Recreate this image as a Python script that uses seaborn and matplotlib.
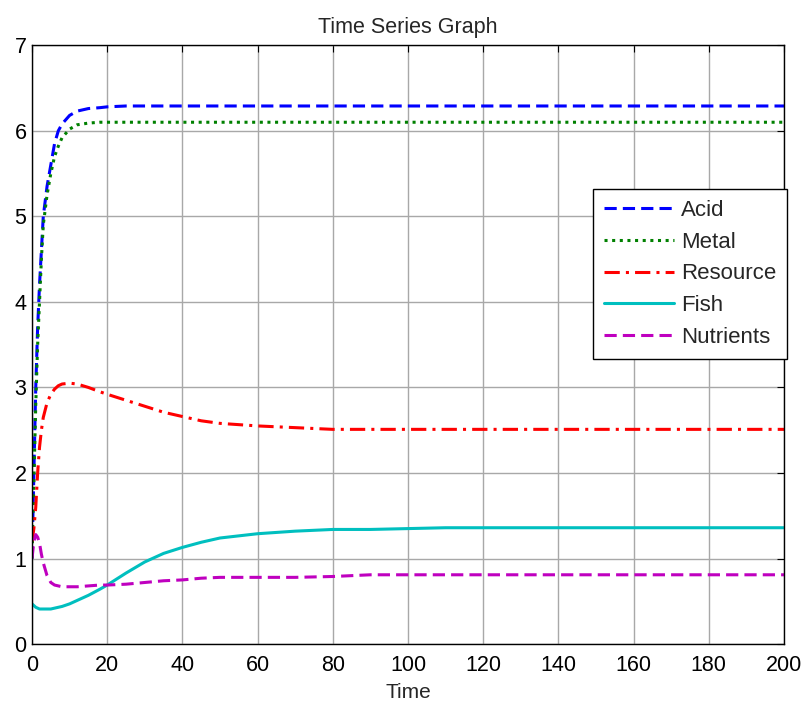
import matplotlib
matplotlib.use('Agg')
import matplotlib.pyplot as plt
import seaborn as sns
import pandas as pd

# --- data ---
time = [0, 0.5, 1, 1.5, 2, 2.5, 3, 4, 5, 6, 7, 8, 10, 12, 15, 18, 20, 25, 30,
        35, 40, 45, 50, 60, 70, 80, 90, 100, 110, 120, 140, 160, 180, 200]

acid = [1.0, 2.0, 3.0, 3.7, 4.2, 4.6, 5.0, 5.35, 5.6, 5.85, 6.0, 6.08, 6.18, 6.23,
        6.26, 6.27, 6.28, 6.29, 6.29, 6.29, 6.29, 6.29, 6.29, 6.29, 6.29, 6.29,
        6.29, 6.29, 6.29, 6.29, 6.29, 6.29, 6.29, 6.29]
metal = [1.0, 1.9, 2.8, 3.5, 4.0, 4.5, 4.9, 5.25, 5.5, 5.7, 5.82, 5.92, 6.02, 6.07,
         6.09, 6.1, 6.1, 6.1, 6.1, 6.1, 6.1, 6.1, 6.1, 6.1, 6.1, 6.1, 6.1, 6.1,
         6.1, 6.1, 6.1, 6.1, 6.1, 6.1]
resource = [1.2, 1.35, 1.6, 2.0, 2.3, 2.5, 2.65, 2.82, 2.92, 2.98, 3.02, 3.04, 3.05,
            3.04, 3.0, 2.95, 2.92, 2.85, 2.78, 2.71, 2.66, 2.61, 2.58, 2.55, 2.53,
            2.51, 2.51, 2.51, 2.51, 2.51, 2.51, 2.51, 2.51, 2.51]
fish = [0.47, 0.45, 0.43, 0.42, 0.41, 0.41, 0.41, 0.41, 0.41, 0.42, 0.43, 0.44, 0.47,
        0.51, 0.57, 0.64, 0.69, 0.83, 0.96, 1.06, 1.13, 1.19, 1.24, 1.29, 1.32,
        1.34, 1.34, 1.35, 1.36, 1.36, 1.36, 1.36, 1.36, 1.36]
nutrients = [1.0, 1.2, 1.28, 1.25, 1.18, 1.05, 0.95, 0.8, 0.72, 0.69, 0.68, 0.67,
             0.67, 0.67, 0.68, 0.69, 0.69, 0.7, 0.72, 0.74, 0.75, 0.77, 0.78, 0.78,
             0.78, 0.79, 0.81, 0.81, 0.81, 0.81, 0.81, 0.81, 0.81, 0.81]

series = ["Acid", "Metal", "Resource", "Fish", "Nutrients"]
values = [acid, metal, resource, fish, nutrients]
colors = ["#0000ff", "#008000", "#ff0000", "#00bfbf", "#bf00bf"]
styles = [(0, (4, 2)), (0, (1, 1.5)), (0, (5, 2, 1, 2)), "-", (0, (4, 2))]

rows = []
for name, vals in zip(series, values):
    for t, v in zip(time, vals):
        rows.append({"Time": t, "value": v, "series": name})
df = pd.DataFrame(rows)

sns.set_style("white")
plt.rcParams['font.family'] = ['Liberation Sans', 'DejaVu Sans']

fig = plt.figure(figsize=(8.08, 7.07), dpi=100)
ax = fig.add_axes([0.0396, 0.089, 0.9307, 0.847])

for name, c, ls in zip(series, colors, styles):
    sub = df[df["series"] == name]
    sns.lineplot(data=sub, x="Time", y="value", ax=ax, color=c, linestyle=ls,
                 linewidth=2.2, label=name)

ax.set_xlim(0, 200)
ax.set_ylim(0, 7)
ax.set_xticks(range(0, 201, 20))
ax.set_yticks(range(0, 8))
ax.grid(True, color="#a8a8a8", linewidth=1)
ax.tick_params(direction="in", labelsize=15.5, length=5, colors="black",
               top=True, right=True)
ax.tick_params(axis="x", pad=8)
ax.tick_params(axis="y", pad=4)
for s in ax.spines.values():
    s.set_color("black")
    s.set_linewidth(1)
ax.set_title("Time Series Graph", fontsize=15.5, pad=9)
ax.set_xlabel("Time", fontsize=15, labelpad=5)
ax.set_ylabel("")

leg = ax.legend(loc="upper left", bbox_to_anchor=(0.746, 0.760), borderaxespad=0,
                fontsize=16, frameon=True, fancybox=False, handlelength=3.15,
                labelspacing=0.48, borderpad=0.5, handletextpad=0.3,
                edgecolor="black", framealpha=1)
leg.get_frame().set_linewidth(1)

fig.savefig("out.png", dpi=100)
